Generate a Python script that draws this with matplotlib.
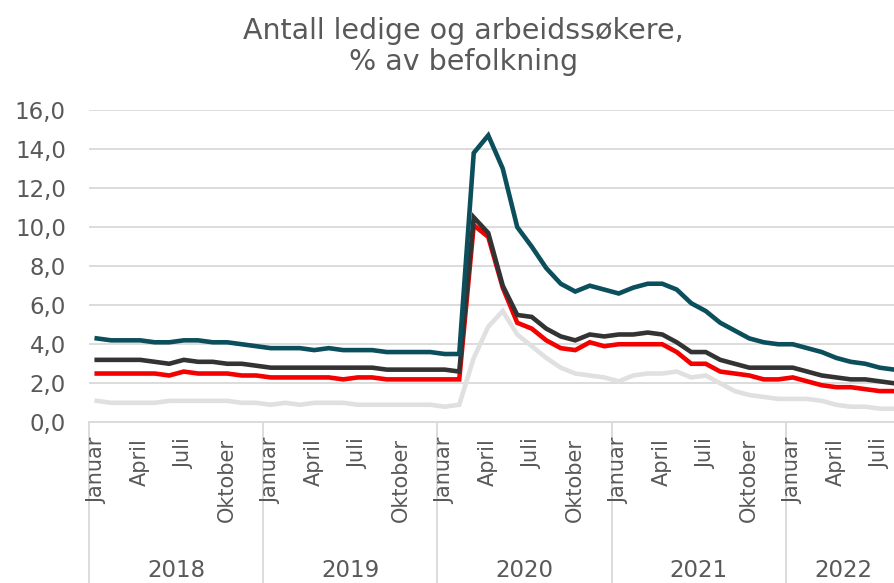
import matplotlib.pyplot as plt
import numpy as np

# Data: månedlige verdier januar 2018 - august 2022
aar = ['2018', '2019', '2020', '2021', '2022']
maaned_navn = {0: 'Januar', 3: 'April', 6: 'Juli', 9: 'Oktober'}

serie_teal = [4.3, 4.2, 4.2, 4.2, 4.1, 4.1, 4.2, 4.2, 4.1, 4.1, 4.0, 3.9,
              3.8, 3.8, 3.8, 3.7, 3.8, 3.7, 3.7, 3.7, 3.6, 3.6, 3.6, 3.6,
              3.5, 3.5, 13.8, 14.7, 13.0, 10.0, 9.0, 7.9, 7.1, 6.7, 7.0, 6.8,
              6.6, 6.9, 7.1, 7.1, 6.8, 6.1, 5.7, 5.1, 4.7, 4.3, 4.1, 4.0,
              4.0, 3.8, 3.6, 3.3, 3.1, 3.0, 2.8, 2.7]
serie_mork = [3.2, 3.2, 3.2, 3.2, 3.1, 3.0, 3.2, 3.1, 3.1, 3.0, 3.0, 2.9,
              2.8, 2.8, 2.8, 2.8, 2.8, 2.8, 2.8, 2.8, 2.7, 2.7, 2.7, 2.7,
              2.7, 2.6, 10.5, 9.7, 7.0, 5.5, 5.4, 4.8, 4.4, 4.2, 4.5, 4.4,
              4.5, 4.5, 4.6, 4.5, 4.1, 3.6, 3.6, 3.2, 3.0, 2.8, 2.8, 2.8,
              2.8, 2.6, 2.4, 2.3, 2.2, 2.2, 2.1, 2.0]
serie_rod = [2.5, 2.5, 2.5, 2.5, 2.5, 2.4, 2.6, 2.5, 2.5, 2.5, 2.4, 2.4,
             2.3, 2.3, 2.3, 2.3, 2.3, 2.2, 2.3, 2.3, 2.2, 2.2, 2.2, 2.2,
             2.2, 2.2, 10.1, 9.5, 6.9, 5.1, 4.8, 4.2, 3.8, 3.7, 4.1, 3.9,
             4.0, 4.0, 4.0, 4.0, 3.6, 3.0, 3.0, 2.6, 2.5, 2.4, 2.2, 2.2,
             2.3, 2.1, 1.9, 1.8, 1.8, 1.7, 1.6, 1.6]
serie_lys = [1.1, 1.0, 1.0, 1.0, 1.0, 1.1, 1.1, 1.1, 1.1, 1.1, 1.0, 1.0,
             0.9, 1.0, 0.9, 1.0, 1.0, 1.0, 0.9, 0.9, 0.9, 0.9, 0.9, 0.9,
             0.8, 0.9, 3.3, 4.9, 5.7, 4.5, 3.9, 3.3, 2.8, 2.5, 2.4, 2.3,
             2.1, 2.4, 2.5, 2.5, 2.6, 2.3, 2.4, 2.0, 1.6, 1.4, 1.3, 1.2,
             1.2, 1.2, 1.1, 0.9, 0.8, 0.8, 0.7, 0.7]

tekstfarge = '#595959'
gridfarge = '#D9D9D9'

n = len(serie_teal)
x = np.arange(n)

fig = plt.figure(figsize=(8.94, 5.83), dpi=100)
# Plottet går litt utenfor bildet til høyre (beskåret original)
ax = fig.add_axes([0.1001, 0.2756, 0.9083, 0.5357])

ax.plot(x, serie_lys, color='#E0E0E0', lw=3.3, solid_joinstyle='miter')
ax.plot(x, serie_rod, color='#F50000', lw=3.3, solid_joinstyle='miter')
ax.plot(x, serie_mork, color='#333333', lw=3.3, solid_joinstyle='miter')
ax.plot(x, serie_teal, color='#0B4F5C', lw=3.3, solid_joinstyle='miter')

ax.set_xlim(-0.5, n - 0.5)
ax.set_ylim(0, 16)
ax.set_yticks(np.arange(0, 17, 2))
ax.set_yticklabels([f'{v:.1f}'.replace('.', ',') for v in np.arange(0, 17, 2)])
ax.grid(axis='y', color=gridfarge, lw=1.3)
ax.set_axisbelow(True)

for s in ['top', 'right', 'left']:
    ax.spines[s].set_visible(False)
ax.spines['bottom'].set_color(gridfarge)
ax.spines['bottom'].set_linewidth(1.3)

ax.tick_params(axis='y', length=0, pad=17, labelsize=16.5, labelcolor=tekstfarge)
ax.set_xticks([])

trans = ax.get_xaxis_transform()

# Månedsetiketter
for i in range(n):
    if i % 12 in maaned_navn:
        ax.text(i, -0.05, maaned_navn[i % 12], transform=trans, rotation=90,
                ha='center', va='top', fontsize=15, color=tekstfarge)

# Årsgrupper med skillelinjer
for k, a in enumerate(aar):
    start = k * 12 - 0.5
    ax.plot([start, start], [0, -0.6], color=gridfarge, lw=1.3,
            transform=trans, clip_on=False)
    slutt = min(start + 12, n - 0.5)
    ax.text((start + slutt) / 2, -0.473, a, transform=trans, ha='center',
            va='center', fontsize=16.5, color=tekstfarge)

fig.text(0.518, 0.92, 'Antall ledige og arbeidssøkere,\n% av befolkning',
         ha='center', va='center', fontsize=20.5, color=tekstfarge,
         linespacing=1.15)

fig.savefig('out.png', dpi=100)
